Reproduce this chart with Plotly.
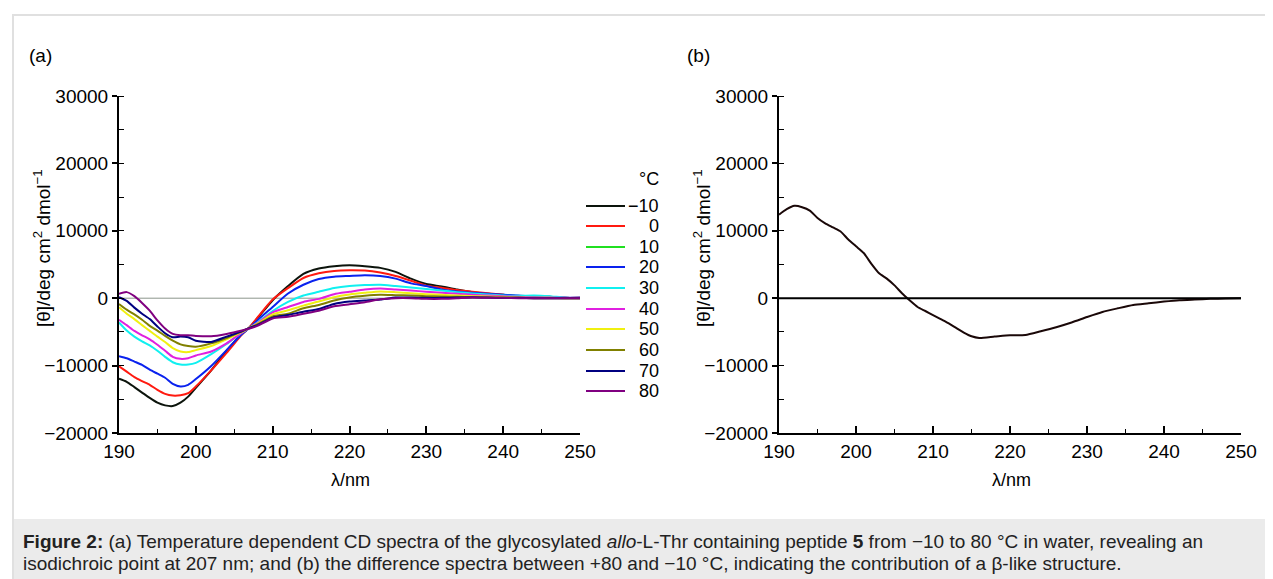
import plotly.graph_objects as go

# ---------------- data ----------------
wavelength = [190, 191, 192, 193, 194, 195, 196, 197, 198, 199, 200, 202, 204, 206, 207, 208,
              210, 212, 214, 216, 218, 220, 222, 224, 226, 228, 230, 232, 234, 236, 238, 240,
              242, 244, 246, 248, 250]

temps = ["\u221210", "0", "10", "20", "30", "40", "50", "60", "70", "80"]
colors = ["#0c140c", "#ff1a10", "#20e020", "#0a22ee", "#10f0f0", "#e020e0", "#f0f010",
          "#808000", "#000080", "#800080"]

cd_m10 = [-11950, -12400, -13200, -14000, -14800, -15500, -15900, -16000, -15500, -14600, -13300,
          -10700, -7800, -5300, -4300, -3000, -300, 1800, 3600, 4400, 4750, 4900, 4750, 4500, 3900,
          2900, 2100, 1750, 1300, 900, 650, 500, 250, 150, 200, 50, 50]
cd_0 = [-10100, -10900, -11700, -12300, -12850, -13600, -14200, -14450, -14400, -14100, -13100,
        -10700, -8100, -5400, -4300, -2900, -200, 1500, 3000, 3700, 4050, 4150, 4100, 3800, 3300,
        2600, 1850, 1550, 1200, 950, 750, 500, 250, 150, 150, 50, 50]
cd_10 = []  # listed in the legend only, no trace visible
cd_20 = [-8600, -8900, -9400, -9900, -10600, -11200, -11800, -12700, -13100, -12850, -12000,
         -10050, -7700, -5300, -4400, -3300, -1300, 700, 2000, 2850, 3200, 3300, 3400, 3300, 2900,
         2200, 1800, 1300, 1000, 800, 650, 500, 400, 200, 200, 50, 50]
cd_30 = [-3600, -4800, -5700, -6400, -7000, -7800, -8700, -9500, -9850, -9850, -9600,
         -8300, -6800, -5100, -4400, -3600, -1900, -550, 400, 950, 1500, 1800, 1950, 2000, 1800,
         1600, 1350, 1150, 900, 700, 550, 400, 350, 400, 300, 100, 50]
cd_40 = [-3200, -4000, -4850, -5500, -6100, -6900, -7800, -8700, -9000, -8900, -8500,
         -7900, -6700, -5100, -4400, -3700, -2100, -1300, -550, -100, 600, 950, 1300, 1450, 1300,
         1150, 950, 800, 650, 500, 400, 300, 200, 100, 100, 50, 50]
cd_50 = [-1350, -2300, -3100, -4000, -4850, -5700, -6500, -7400, -7900, -8000, -7700,
         -7100, -6100, -5000, -4400, -3800, -2400, -1800, -1100, -500, 150, 550, 800, 1000, 900,
         750, 600, 500, 400, 300, 250, 200, 100, 50, 50, 0, 0]
cd_60 = [-850, -1700, -2400, -3200, -4100, -4800, -5600, -6300, -6850, -7100, -7200,
         -6700, -5900, -4900, -4400, -3900, -2700, -2300, -1500, -1000, -350, 100, 350, 500, 450,
         400, 300, 250, 200, 150, 100, 50, 50, 0, 0, 0, 0]
cd_70 = [150, -400, -1400, -2300, -3100, -4200, -5200, -5800, -5700, -5800, -6300,
         -6500, -5700, -4900, -4400, -4000, -2900, -2500, -2000, -1600, -850, -500, -350, -200, 100,
         100, 50, 50, 100, 150, 100, 50, 50, 0, 0, 0, 0]
cd_80 = [650, 900, 300, -700, -1850, -3300, -4500, -5300, -5500, -5500, -5600,
         -5650, -5300, -4800, -4500, -4100, -3000, -2750, -2300, -1850, -1200, -900, -600, -150, 0,
         0, -100, -100, 0, 100, 50, 50, 0, 0, 0, 0, 0]
cd_series = [cd_m10, cd_0, cd_10, cd_20, cd_30, cd_40, cd_50, cd_60, cd_70, cd_80]

diff_wavelength = [190, 191, 192, 193, 194, 195, 196, 197, 198, 199, 200, 201, 202, 203, 204, 205,
                   206, 207, 208, 209, 210, 211, 212, 213, 214, 215, 216, 218, 220, 222, 224, 226,
                   228, 230, 232, 234, 236, 238, 240, 242, 244, 246, 248, 250]
diff_values = [12400, 13200, 13700, 13500, 13000, 11900, 11100, 10500, 9900, 8700, 7700, 6700,
               5100, 3700, 2900, 1900, 700, -350, -1300, -1900, -2500, -3100, -3700, -4400, -5100,
               -5650, -5900, -5700, -5500, -5450, -4900, -4300, -3600, -2800, -2050, -1500, -1000,
               -750, -500, -300, -200, -100, -50, 0]

x_ticks = [190, 200, 210, 220, 230, 240, 250]
y_ticks = [-20000, -10000, 0, 10000, 20000, 30000]

# ---------------- figure ----------------
# page body has an 8 px margin, so the figure is sized/offset to fill the 1273x579 view
OFF = 8
W, H = 1273 - OFF, 579 - OFF
FONT = "Arial, Liberation Sans, sans-serif"


def px(x):
    return (x - OFF) / W


def py(y):
    return 1 - (y - OFF) / H


fig = go.Figure()

for name, col, vals in zip(temps, colors, cd_series):
    if not vals:
        continue
    fig.add_trace(go.Scatter(x=wavelength[:len(vals)], y=vals, mode="lines", name=name,
                             line=dict(color=col, width=2, shape="spline", smoothing=0.6),
                             xaxis="x", yaxis="y", showlegend=False, hoverinfo="skip"))

fig.add_trace(go.Scatter(x=diff_wavelength, y=diff_values, mode="lines", name="+80 \u2212 (\u221210)",
                         line=dict(color="#1a0808", width=2, shape="spline", smoothing=0.6),
                         xaxis="x2", yaxis="y2", showlegend=False, hoverinfo="skip"))

xdom1 = [px(119), px(580)]
xdom2 = [px(779), px(1241)]
ydom = [py(433), py(96)]

axis_common = dict(showgrid=False, zeroline=False, showline=True, linecolor="#000000", linewidth=2,
                   automargin=False,
                   tickfont=dict(family=FONT, size=19, color="#000000"), color="#000000")
xaxis_common = dict(axis_common, range=[190, 250], tickvals=x_ticks, ticks="inside", ticklen=7,
                    tickwidth=1.5, tickcolor="#000000",
                    minor=dict(dtick=5, tick0=190, ticks="inside", ticklen=4, tickwidth=1.2,
                               tickcolor="#000000"))
yaxis_common = dict(axis_common, range=[-20000, 30000], tickvals=y_ticks, ticks="outside", ticklen=5,
                    tickwidth=1.5, tickcolor="#000000", tickformat="d",
                    minor=dict(dtick=5000, tick0=0, ticks="inside", ticklen=5, tickwidth=1.2,
                               tickcolor="#000000"))

fig.update_layout(
    width=W, height=H, margin=dict(l=0, r=0, t=0, b=0, pad=0), autosize=False,
    paper_bgcolor="#ffffff", plot_bgcolor="rgba(0,0,0,0)",
    showlegend=False,
    font=dict(family=FONT, color="#000000"),
    xaxis=dict(xaxis_common, domain=xdom1, anchor="y"),
    yaxis=dict(yaxis_common, domain=ydom, anchor="x"),
    xaxis2=dict(xaxis_common, domain=xdom2, anchor="y2"),
    yaxis2=dict(yaxis_common, domain=ydom, anchor="x2"),
)

shapes = [
    # outer frame
    dict(type="rect", xref="paper", yref="paper", x0=px(13), x1=px(1290), y0=py(600), y1=py(15),
         line=dict(color="#e0e0e0", width=2), fillcolor="rgba(0,0,0,0)", layer="below"),
    # caption background
    dict(type="rect", xref="paper", yref="paper", x0=px(14), x1=px(1290), y0=py(600), y1=py(519),
         line=dict(width=0), fillcolor="#ebebeb", layer="below"),
    # zero lines
    dict(type="line", xref="x", yref="y", x0=190, x1=250, y0=0, y1=0,
         line=dict(color="#8c968c", width=1), layer="below"),
    dict(type="line", xref="x2", yref="y2", x0=190, x1=250, y0=0, y1=0,
         line=dict(color="#000000", width=2)),
]

annotations = []
# manual legend
leg_y = [206, 226, 247, 267, 288, 309, 329, 350, 371, 391]
for name, col, yy in zip(temps, colors, leg_y):
    shapes.append(dict(type="line", xref="paper", yref="paper", x0=px(586), x1=px(625),
                       y0=py(yy), y1=py(yy), line=dict(color=col, width=2)))
    annotations.append(dict(xref="paper", yref="paper", x=px(661), y=py(yy), text=name,
                            showarrow=False, xanchor="right", yanchor="middle",
                            font=dict(family=FONT, size=18, color="#000000")))
annotations.append(dict(xref="paper", yref="paper", x=px(661), y=py(179), text="\u00b0C",
                        showarrow=False, xanchor="right", yanchor="middle",
                        font=dict(family=FONT, size=18, color="#000000")))

# panel labels
annotations.append(dict(xref="paper", yref="paper", x=px(27), y=py(55), text="(a)", showarrow=False,
                        xanchor="left", yanchor="middle", font=dict(family=FONT, size=19)))
annotations.append(dict(xref="paper", yref="paper", x=px(685), y=py(55), text="(b)", showarrow=False,
                        xanchor="left", yanchor="middle", font=dict(family=FONT, size=19)))

# axis titles
ytitle = "[\u03b8]/deg cm<sup>2</sup> dmol<sup>\u22121</sup>"
for xx in (42, 702):
    annotations.append(dict(xref="paper", yref="paper", x=px(xx), y=py(248), text=ytitle,
                            textangle=-90, showarrow=False, xanchor="center", yanchor="middle",
                            font=dict(family=FONT, size=19)))
for xx in (350, 1011):
    annotations.append(dict(xref="paper", yref="paper", x=px(xx), y=py(480), text="\u03bb/nm",
                            showarrow=False, xanchor="center", yanchor="middle",
                            font=dict(family=FONT, size=18)))

# caption
cap1 = ("<b>Figure 2:</b> (a) Temperature dependent CD spectra of the glycosylated <i>allo</i>-L-Thr "
        "containing peptide <b>5</b> from \u221210 to 80 \u00b0C in water, revealing an")
cap2 = ("isodichroic point at 207 nm; and (b) the difference spectra between +80 and \u221210 \u00b0C, "
        "indicating the contribution of a \u03b2-like structure.")
annotations.append(dict(xref="paper", yref="paper", x=px(21), y=py(541), text=cap1, showarrow=False,
                        xanchor="left", yanchor="middle", font=dict(family=FONT, size=19, color="#222222")))
annotations.append(dict(xref="paper", yref="paper", x=px(21), y=py(563), text=cap2, showarrow=False,
                        xanchor="left", yanchor="middle", font=dict(family=FONT, size=19, color="#222222")))

fig.update_layout(shapes=shapes, annotations=annotations)

fig.write_html("out.html")
